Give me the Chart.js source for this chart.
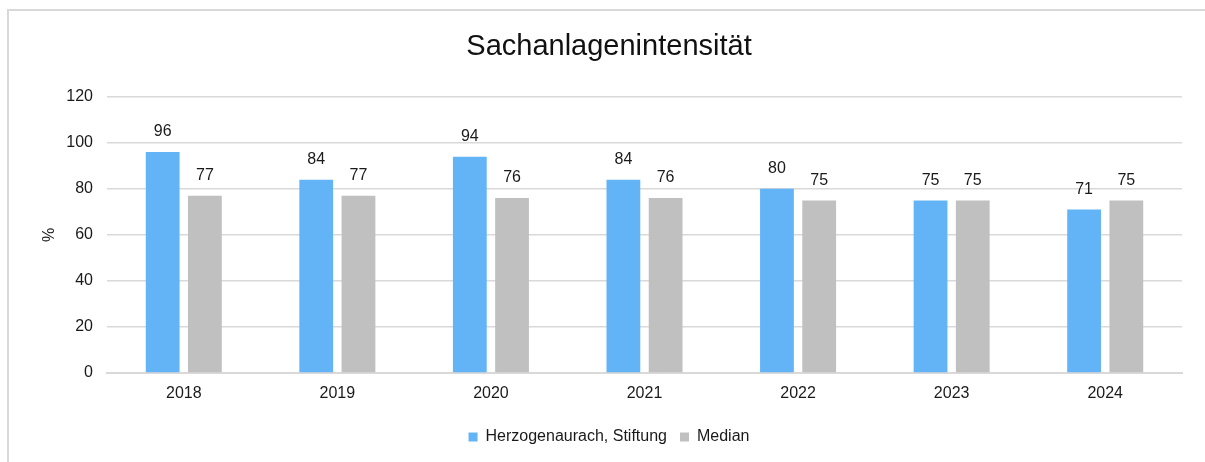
<!DOCTYPE html>
<html>
<head>
<meta charset="utf-8">
<script src="https://cdn.jsdelivr.net/npm/chart.js@4"></script>
<style>
  html, body { margin: 0; padding: 0; background: #fff; }
  #wrap { position: relative; width: 1205px; height: 462px; overflow: hidden; }
  #frame { position: absolute; left: 7px; top: 9px; width: 1300px; height: 600px;
           border-left: 2px solid #d9d9d9; border-top: 2px solid #d9d9d9; }
  #box { position: absolute; left: 0; top: 0; width: 1205px; height: 462px; }
</style>
</head>
<body>
<div id="wrap">
  <div id="frame"></div>
  <div id="box"><canvas id="chart"></canvas></div>
</div>
<script>
const years = ['2018', '2019', '2020', '2021', '2022', '2023', '2024'];
const stiftung = [96, 84, 94, 84, 80, 75, 71];
const median = [77, 77, 76, 76, 75, 75, 75];

// value labels above each bar
const barLabels = {
  id: 'barLabels',
  afterDatasetsDraw(chart) {
    const ctx = chart.ctx;
    ctx.save();
    ctx.font = '16px "Liberation Sans", Arial, sans-serif';
    ctx.fillStyle = '#1a1a1a';
    ctx.textAlign = 'center';
    ctx.textBaseline = 'middle';
    chart.data.datasets.forEach((ds, i) => {
      chart.getDatasetMeta(i).data.forEach((bar, j) => {
        ctx.fillText(ds.data[j], bar.x, bar.y - 20);
      });
    });
    ctx.restore();
  }
};

const font = { family: '"Liberation Sans", Arial, sans-serif', size: 16 };

new Chart(document.getElementById('chart').getContext('2d'), {
  type: 'bar',
  data: {
    labels: years,
    datasets: [
      {
        label: 'Herzogenaurach, Stiftung',
        data: stiftung,
        backgroundColor: '#63b4f6',
        categoryPercentage: 0.55,
        barPercentage: 0.8,
      },
      {
        label: 'Median',
        data: median,
        backgroundColor: '#c0c0c0',
        categoryPercentage: 0.55,
        barPercentage: 0.8,
      },
    ],
  },
  options: {
    responsive: true,
    maintainAspectRatio: false,
    animation: false,
    layout: { padding: { left: 36, right: 23, top: 0, bottom: 7 } },
    plugins: {
      title: {
        display: true,
        text: 'Sachanlagenintensität',
        color: '#111',
        font: { family: font.family, size: 29, weight: 'normal' },
        padding: { top: 30, bottom: 32 },
      },
      legend: {
        position: 'bottom',
        labels: {
          color: '#1a1a1a',
          font: font,
          boxWidth: 9,
          boxHeight: 9,
          padding: 13,
        },
      },
      tooltip: { enabled: false },
    },
    scales: {
      x: {
        grid: { display: false, drawTicks: false },
        border: { color: '#d9d9d9', width: 2 },
        ticks: { color: '#1a1a1a', font: font, padding: 11 },
        afterFit: (s) => { s.height = 43; },
      },
      y: {
        min: 0,
        max: 120,
        ticks: { stepSize: 20, color: '#1a1a1a', font: font, padding: 14 },
        grid: { color: '#d9d9d9', lineWidth: 1.5, drawTicks: false },
        border: { display: false },
        title: { display: true, text: '%', color: '#1a1a1a', font: font },
        afterFit: (s) => { s.width = 71; },
      },
    },
  },
  plugins: [barLabels],
});
</script>
</body>
</html>
